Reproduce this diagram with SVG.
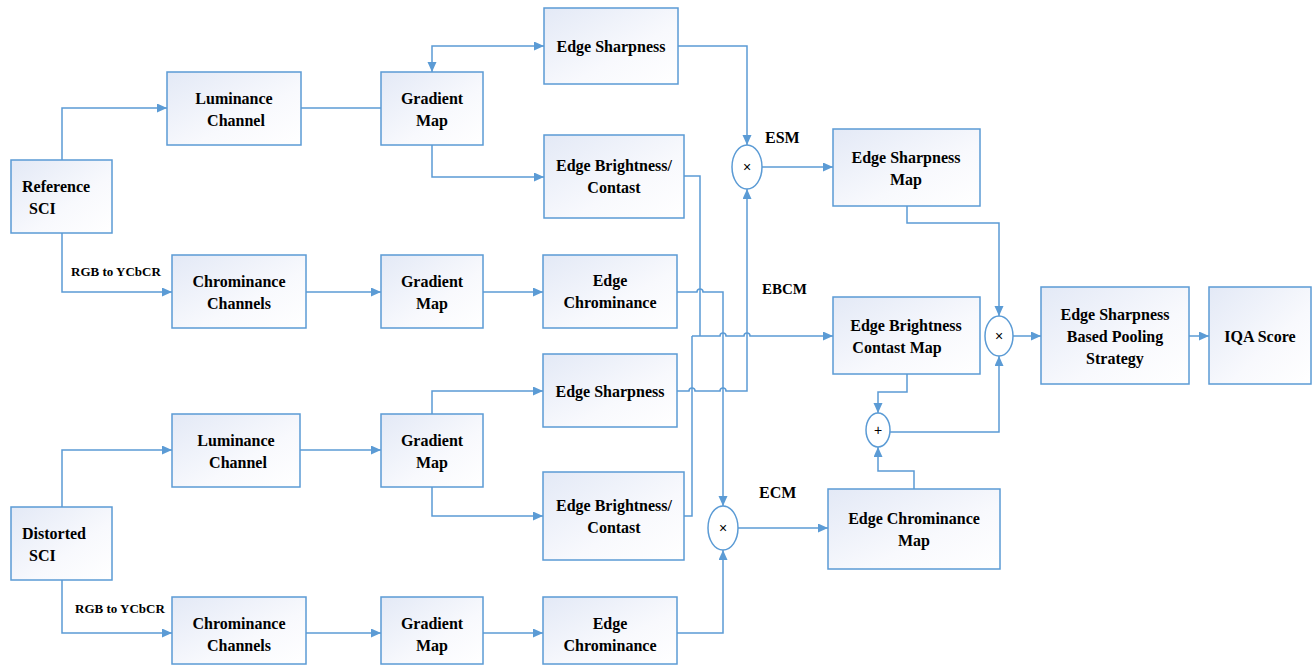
<svg xmlns="http://www.w3.org/2000/svg" width="1314" height="671" viewBox="0 0 1314 671">
<style>
.box{fill:url(#g);stroke:#5b9bd5;stroke-width:1.5}
.op{fill:#fff;stroke:#5b9bd5;stroke-width:1.5}
text{font-family:'Liberation Serif','DejaVu Serif',serif;font-weight:bold;fill:#000}
.t{font-size:16px;text-anchor:middle}
.s{font-size:13px}
.lab{font-size:16px}
.sym{font-family:'Liberation Sans','DejaVu Sans',sans-serif;font-weight:normal;font-size:14px;text-anchor:middle}
#conn path{fill:none;stroke:#5b9bd5;stroke-width:1.5}
</style>
<defs>
<linearGradient id="g" x1="0" y1="0" x2="1" y2="1">
<stop offset="0" stop-color="#e3e9f6"/>
<stop offset="0.6" stop-color="#f8f9fd"/>
<stop offset="1" stop-color="#ffffff"/>
</linearGradient>
<marker id="a" markerUnits="userSpaceOnUse" markerWidth="11" markerHeight="10" refX="10" refY="4.5" orient="auto-start-reverse">
<path d="M0,0 L10,4.5 L0,9 z" fill="#5b9bd5"/>
</marker>
</defs>
<rect width="1314" height="671" fill="#fff"/>

<g id="conn">
<path d="M62,160 V108 H167" marker-end="url(#a)"/>
<path d="M62,233 V292 H172" marker-end="url(#a)"/>
<path d="M301,108 H381"/>
<path d="M432,72 V46 H544" marker-start="url(#a)" marker-end="url(#a)"/>
<path d="M432,145 V177 H544" marker-end="url(#a)"/>
<path d="M306,292 H381" marker-end="url(#a)"/>
<path d="M483,292 H543" marker-end="url(#a)"/>
<path d="M678,46 H747 V145" marker-end="url(#a)"/>
<path d="M684,176 H700 V336"/>
<path d="M677,292 H697 a3,3 0 0 1 6,0 H723 V506" marker-end="url(#a)"/>
<path d="M692,336 H720 a3,3 0 0 1 6,0 H744 a3,3 0 0 1 6,0 H833" marker-end="url(#a)"/>
<path d="M677,391 H689 a3,3 0 0 1 6,0 H720 a3,3 0 0 1 6,0 H747 V189" marker-end="url(#a)"/>
<path d="M684,516 H692 V336"/>
<path d="M62,507 V450 H172" marker-end="url(#a)"/>
<path d="M62,580 V633 H172" marker-end="url(#a)"/>
<path d="M300,450 H381" marker-end="url(#a)"/>
<path d="M432,414 V391 H543" marker-end="url(#a)"/>
<path d="M432,487 V516 H543" marker-end="url(#a)"/>
<path d="M306,633 H381" marker-end="url(#a)"/>
<path d="M483,633 H543" marker-end="url(#a)"/>
<path d="M677,633 H723 V550" marker-end="url(#a)"/>
<path d="M762,167 H833" marker-end="url(#a)"/>
<path d="M738,528 H828" marker-end="url(#a)"/>
<path d="M907,206 V223 H999 V316" marker-end="url(#a)"/>
<path d="M907,374 V392 H878 V413" marker-end="url(#a)"/>
<path d="M914,489 V471 H878 V447" marker-end="url(#a)"/>
<path d="M890,432 H999 V356" marker-end="url(#a)"/>
<path d="M1013,336 H1041" marker-end="url(#a)"/>
<path d="M1189,336 H1209" marker-end="url(#a)"/>
</g>

<g id="refsci"><rect class="box" x="11" y="160" width="101" height="73"/>
<text class="lab" x="22" y="192">Reference</text><text class="lab" x="29" y="214">SCI</text></g>
<text class="s" x="71" y="276">RGB to YCbCR</text>
<g id="lum1"><rect class="box" x="167" y="72" width="134" height="73"/>
<text class="t" x="234" y="104">Luminance</text><text class="t" x="236" y="126">Channel</text></g>
<g id="chr1"><rect class="box" x="172" y="255" width="134" height="73"/>
<text class="t" x="239" y="287">Chrominance</text><text class="t" x="239" y="309">Channels</text></g>
<g id="grad1"><rect class="box" x="381" y="72" width="102" height="73"/>
<text class="t" x="432" y="104">Gradient</text><text class="t" x="432" y="126">Map</text></g>
<g id="grad2"><rect class="box" x="381" y="255" width="102" height="73"/>
<text class="t" x="432" y="287">Gradient</text><text class="t" x="432" y="309">Map</text></g>
<g id="es1"><rect class="box" x="544" y="8" width="134" height="76"/>
<text class="t" x="611" y="52">Edge Sharpness</text></g>
<g id="ebc1"><rect class="box" x="544" y="135" width="140" height="83"/>
<text class="t" x="614" y="171">Edge Brightness/</text><text class="t" x="614" y="193">Contast</text></g>
<g id="ec1"><rect class="box" x="543" y="255" width="134" height="73"/>
<text class="t" x="610" y="286">Edge</text><text class="t" x="610" y="308">Chrominance</text></g>

<g id="distsci"><rect class="box" x="11" y="507" width="101" height="73"/>
<text class="lab" x="22" y="539">Distorted</text><text class="lab" x="29" y="561">SCI</text></g>
<text class="s" x="75" y="613">RGB to YCbCR</text>
<g id="lum2"><rect class="box" x="172" y="414" width="128" height="73"/>
<text class="t" x="236" y="446">Luminance</text><text class="t" x="238" y="468">Channel</text></g>
<g id="chr2"><rect class="box" x="172" y="597" width="134" height="67"/>
<text class="t" x="239" y="629">Chrominance</text><text class="t" x="239" y="651">Channels</text></g>
<g id="grad3"><rect class="box" x="381" y="414" width="102" height="73"/>
<text class="t" x="432" y="446">Gradient</text><text class="t" x="432" y="468">Map</text></g>
<g id="grad4"><rect class="box" x="381" y="597" width="102" height="67"/>
<text class="t" x="432" y="629">Gradient</text><text class="t" x="432" y="651">Map</text></g>
<g id="es2"><rect class="box" x="543" y="354" width="134" height="73"/>
<text class="t" x="610" y="397">Edge Sharpness</text></g>
<g id="ebc2"><rect class="box" x="543" y="472" width="141" height="88"/>
<text class="t" x="614" y="511">Edge Brightness/</text><text class="t" x="614" y="533">Contast</text></g>
<g id="ec2"><rect class="box" x="543" y="597" width="134" height="67"/>
<text class="t" x="610" y="629">Edge</text><text class="t" x="610" y="651">Chrominance</text></g>

<g id="mulesm"><ellipse class="op" cx="747" cy="167" rx="15" ry="22"/><text class="sym" x="747" y="172">×</text></g>
<text class="lab" x="765" y="143">ESM</text>
<text class="lab" x="762" y="294" style="font-size:15px">EBCM</text>
<g id="mulecm"><ellipse class="op" cx="723" cy="528" rx="15" ry="22"/><text class="sym" x="723" y="533">×</text></g>
<text class="lab" x="759" y="498">ECM</text>

<g id="esmap"><rect class="box" x="833" y="129" width="147" height="77"/>
<text class="t" x="906" y="163">Edge Sharpness</text><text class="t" x="906" y="185">Map</text></g>
<g id="ebcmap"><rect class="box" x="833" y="297" width="147" height="77"/>
<text class="t" x="906" y="331">Edge Brightness</text><text class="t" x="897" y="353">Contast Map</text></g>
<g id="ecmap"><rect class="box" x="828" y="489" width="172" height="80"/>
<text class="t" x="914" y="524">Edge Chrominance</text><text class="t" x="914" y="546">Map</text></g>
<g id="plus"><ellipse class="op" cx="878" cy="430" rx="12" ry="17"/><text class="sym" x="878" y="435">+</text></g>
<g id="mulfin"><ellipse class="op" cx="999" cy="336" rx="14" ry="20"/><text class="sym" x="999" y="341">×</text></g>
<g id="pool"><rect class="box" x="1041" y="287" width="148" height="97"/>
<text class="t" x="1115" y="320">Edge Sharpness</text><text class="t" x="1115" y="342">Based Pooling</text><text class="t" x="1115" y="364">Strategy</text></g>
<g id="iqa"><rect class="box" x="1209" y="287" width="102" height="97"/>
<text class="t" x="1260" y="342">IQA Score</text></g>
</svg>
